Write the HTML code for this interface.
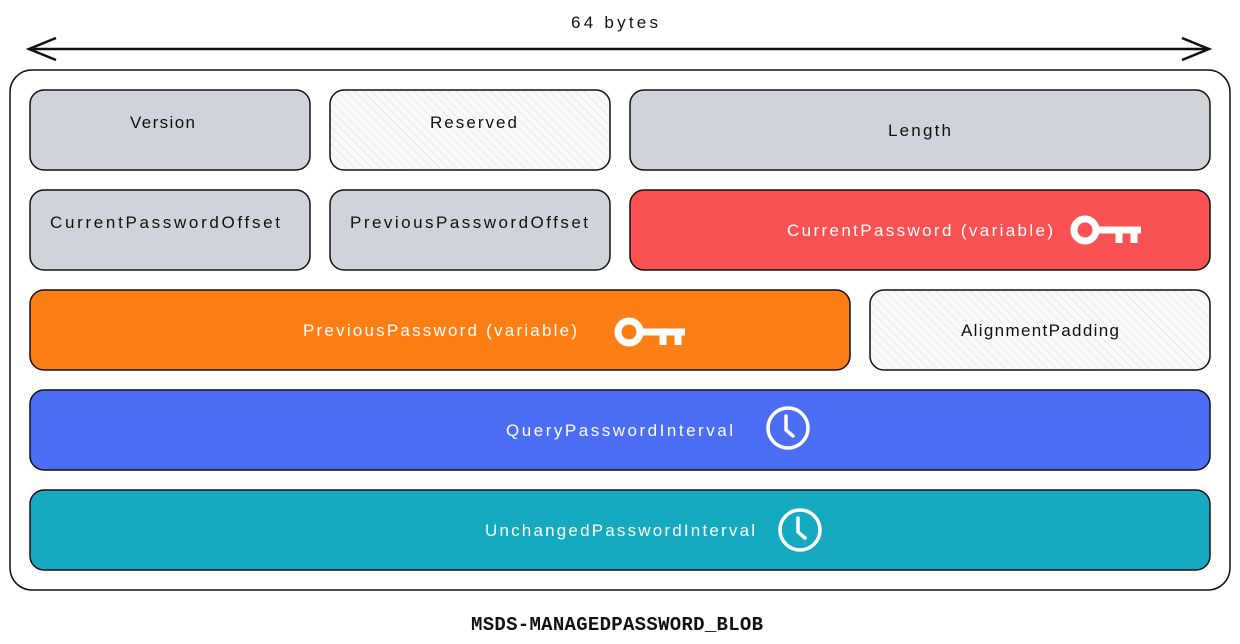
<!DOCTYPE html>
<html><head><meta charset="utf-8"><style>
html,body{margin:0;padding:0;background:#fff;}
svg{display:block;}
text{font-family:"Liberation Sans",sans-serif;font-size:17px;}
</style></head><body>
<svg width="1240" height="644" viewBox="0 0 1240 644" xmlns="http://www.w3.org/2000/svg">
<defs>
<pattern id="h" width="6" height="6" patternUnits="userSpaceOnUse" patternTransform="rotate(-45)">
<rect width="6" height="6" fill="#fafafa"/><line x1="0" y1="0" x2="0" y2="6" stroke="#dcdcdc" stroke-width="1"/>
</pattern>
</defs>
<text x="571" y="28" textLength="87" fill="#111">64 bytes</text>
<line x1="29" y1="49" x2="1209" y2="49" stroke="#111" stroke-width="2.5"/>
<polyline points="56,38 29,49 56,60" fill="none" stroke="#111" stroke-width="2.5"/>
<polyline points="1182,38 1209,49 1182,60" fill="none" stroke="#111" stroke-width="2.5"/>
<rect x="10" y="70" width="1220" height="520" rx="22" fill="#fff" stroke="#111" stroke-width="1.5"/>
<g stroke="#111" stroke-width="1.5">
<rect x="30" y="90" width="280" height="80" rx="14" fill="#ced4da"/>
<rect x="330" y="90" width="280" height="80" rx="14" fill="url(#h)"/>
<rect x="630" y="90" width="580" height="80" rx="14" fill="#ced4da"/>
<rect x="30" y="190" width="280" height="80" rx="14" fill="#ced4da"/>
<rect x="330" y="190" width="280" height="80" rx="14" fill="#ced4da"/>
<rect x="630" y="190" width="580" height="80" rx="14" fill="#fa5252"/>
<rect x="30" y="290" width="820" height="80" rx="14" fill="#fd7e14"/>
<rect x="870" y="290" width="340" height="80" rx="14" fill="url(#h)"/>
<rect x="30" y="390" width="1180" height="80" rx="14" fill="#4c6ef5"/>
<rect x="30" y="490" width="1180" height="80" rx="14" fill="#15aabf"/>
</g>
<g fill="#111">
<text x="130" y="128" textLength="65">Version</text>
<text x="430" y="128" textLength="87">Reserved</text>
<text x="888" y="136" textLength="63">Length</text>
<text x="50" y="228" textLength="230">CurrentPasswordOffset</text>
<text x="350" y="228" textLength="238">PreviousPasswordOffset</text>
<text x="961" y="336" textLength="158">AlignmentPadding</text>
</g>
<g fill="#fff">
<text x="787" y="236" textLength="266">CurrentPassword (variable)</text>
<text x="303" y="336" textLength="274">PreviousPassword (variable)</text>
<text x="506" y="436" textLength="227">QueryPasswordInterval</text>
<text x="485" y="536" textLength="270">UnchangedPasswordInterval</text>
</g>
<g fill="none" stroke="#fff" stroke-width="7">
<circle cx="1085" cy="230" r="11"/>
<line x1="1096" y1="230" x2="1141" y2="230"/>
<line x1="1119" y1="230" x2="1119" y2="243"/>
<line x1="1134" y1="230" x2="1134" y2="243"/>
</g>
<g fill="none" stroke="#fff" stroke-width="7">
<circle cx="629" cy="332" r="11"/>
<line x1="640" y1="332" x2="685" y2="332"/>
<line x1="663" y1="332" x2="663" y2="345"/>
<line x1="678" y1="332" x2="678" y2="345"/>
</g>
<g fill="none" stroke="#fff" stroke-width="3.5" stroke-linecap="round">
<circle cx="788" cy="428" r="20"/>
<polyline points="786,416 786,430 793,436"/>
<circle cx="800" cy="530" r="20"/>
<polyline points="798,518 798,532 805,538"/>
</g>
<text x="471" y="630" fill="#111" style="font-family:'Liberation Mono',monospace;font-size:19px;font-weight:bold" textLength="292">MSDS-MANAGEDPASSWORD_BLOB</text>
</svg>
</body></html>
